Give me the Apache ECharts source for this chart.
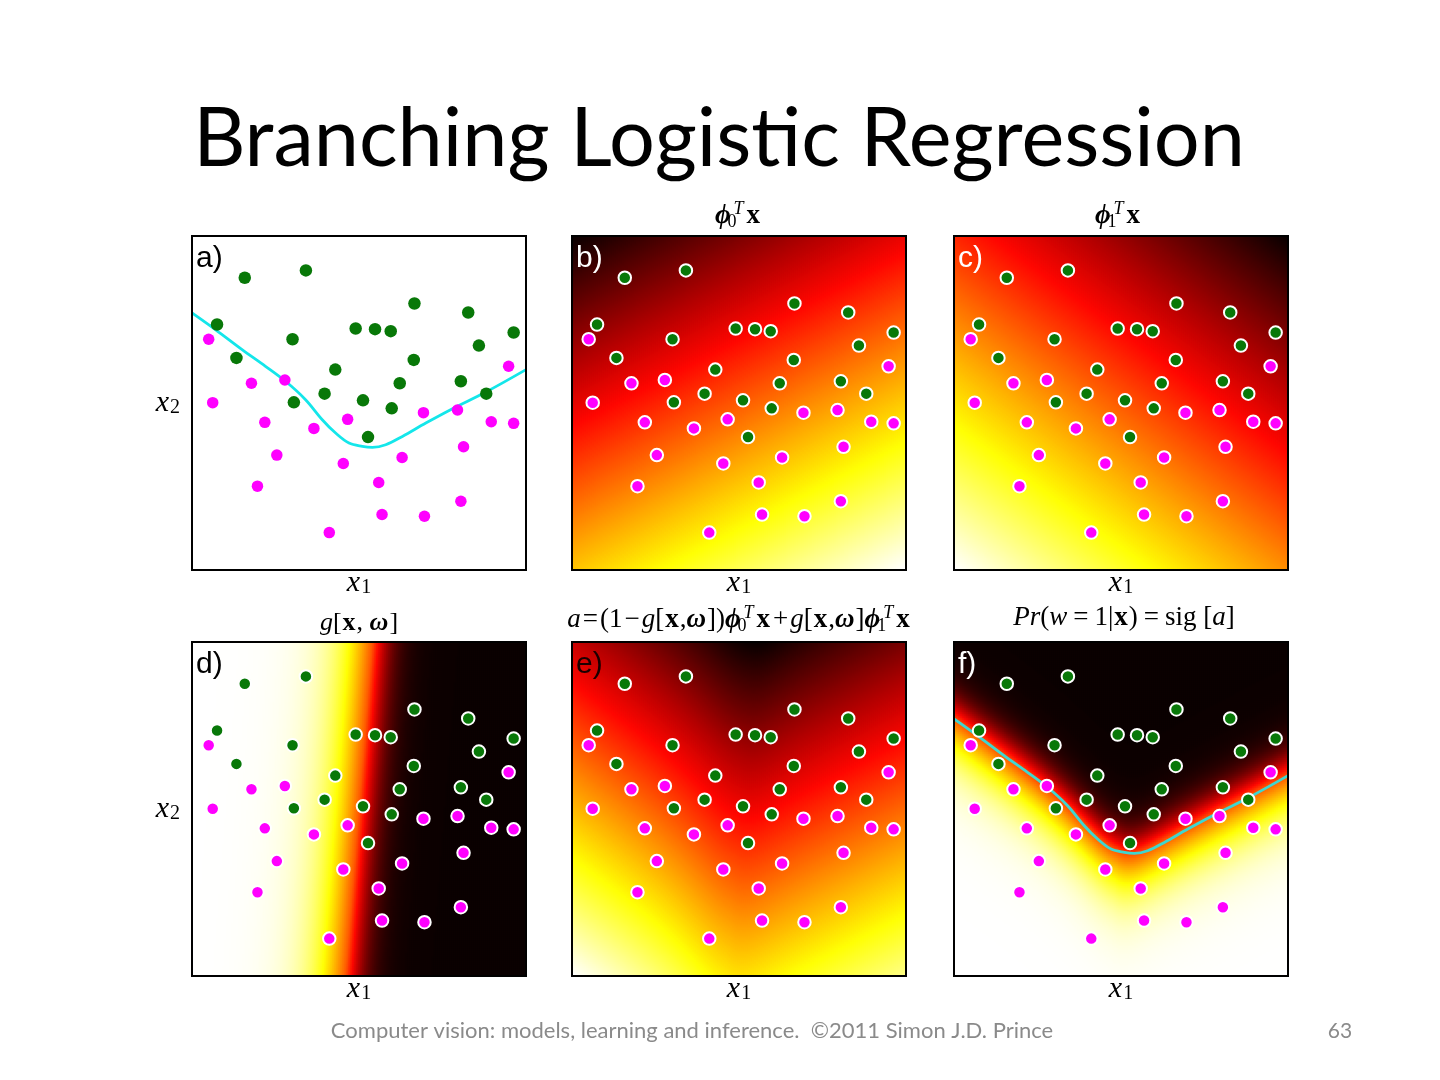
<!DOCTYPE html>
<html><head><meta charset="utf-8">
<script src="https://cdn.jsdelivr.net/npm/echarts@6/dist/echarts.min.js"></script>
<style>html,body{margin:0;padding:0;background:#fff}#c{width:1440px;height:1080px}</style>
</head><body><div id="c"></div>
<script>
// ---- data (panel coords 0..100) ----
const greenPoints = [[15.8,87.5],[34.1,89.7],[7.5,73.5],[30.1,69.1],[13.3,63.5],[42.9,60.0],[39.7,52.8],[30.5,50.2],[51.2,50.8],[52.7,39.8],[49.0,72.3],[54.8,72.1],[59.5,71.5],[66.6,79.8],[66.4,62.9],[62.2,55.9],[59.8,48.4],[82.7,77.1],[85.9,67.2],[96.3,71.1],[80.5,56.5],[88.1,52.8]];
const magentaPoints = [[5.0,69.1],[6.2,50.1],[17.8,55.9],[27.8,56.9],[21.8,44.2],[36.5,42.4],[46.6,45.1],[25.4,34.4],[45.3,31.9],[19.6,25.1],[55.9,26.2],[62.9,33.7],[69.3,47.1],[79.5,47.9],[89.6,44.4],[96.3,43.9],[94.8,61.0],[81.3,36.9],[80.5,20.6],[56.9,16.6],[69.6,16.1],[41.1,11.2]];
const boundaryX = [0, 7, 15, 22, 28, 34, 39, 43, 47, 51, 54, 58, 63, 70, 78, 88, 100];
const boundaryY = [77, 72, 66, 61, 56.5, 51, 45, 41, 38, 37, 36.7, 37.5, 40, 44, 48.3, 53.3, 60];
// model parameters estimated from the shaded panels: [bias, x1, x2] in unit panel coords
const phi0 = [0.08, 0.52, -1.0];
const phi1 = [0.77, -0.73, -1.0];
const omega = [0.46, -1.0, 0.08];
const gateGain = [16, 28];   // steepness of g on the g>0.5 / g<0.5 side
const sigGain = [22, 13];    // steepness of sig[a] on the a<0 / a>0 side
const panelLetters = ['a)', 'b)', 'c)', 'd)', 'e)', 'f)'];
const letterColors = ['#000', '#fff', '#fff', '#000', '#1a0000', '#fff'];

// ---- layout ----
const panels = [{left:192, top:236}, {left:572, top:236}, {left:954, top:236},
                {left:192, top:642}, {left:572, top:642}, {left:954, top:642}];
const SIZE = 334;
const N = 167;
const hot = ['#0b0000','#5e0000','#b20000','#ff0700','#ff5a00','#ffae00','#ffff04','#ffff82','#ffffff'];

const sigm = t => 1 / (1 + Math.exp(-t));
const lin = (w, u, v) => w[0] + w[1] * u + w[2] * v;
const raw = [[], [], [], [], []];
for (let i = 0; i < N; i++) for (let j = 0; j < N; j++) {
  const u = (i + 0.5) / N, v = (j + 0.5) / N;
  const a0 = lin(phi0, u, v), a1 = lin(phi1, u, v);
  const t = lin(omega, u, v);
  const g = sigm(t * (t > 0 ? gateGain[0] : gateGain[1]));
  const a = (1 - g) * a0 + g * a1;
  const pr = sigm(a * (a < 0 ? sigGain[0] : sigGain[1]));
  [a0, a1, g, a, pr].forEach((val, k) => raw[k].push([i, j, val]));
}
const heat = raw.map(arr => {
  let mn = Infinity, mx = -Infinity;
  arr.forEach(d => { mn = Math.min(mn, d[2]); mx = Math.max(mx, d[2]); });
  return arr.map(d => [d[0], d[1], (d[2] - mn) / (mx - mn)]);
});
const cats = Array.from({length: N}, (_, i) => i);

const serif = '"Liberation Serif","DejaVu Serif",serif';
const axisRich = {
  i: {fontFamily: serif, fontStyle: 'italic', fontSize: 30, color: '#000', lineHeight: 30, verticalAlign: 'middle'},
  s: {fontFamily: serif, fontSize: 20, color: '#000', lineHeight: 11, verticalAlign: 'bottom', padding: [0, 0, 0, 1]}
};
function mathRich(fs, opSpace) {
  const ss = Math.round(fs * 0.68);
  const sp = Math.round(fs * opSpace);
  return {
    i: {fontFamily: serif, fontStyle: 'italic', fontSize: fs, fill: '#000', lineHeight: fs + 4, verticalAlign: 'middle'},
    r: {fontFamily: serif, fontSize: fs, fill: '#000', lineHeight: fs + 4, verticalAlign: 'middle'},
    o: {fontFamily: serif, fontSize: fs, fill: '#000', lineHeight: fs + 4, verticalAlign: 'middle', padding: [0, sp, 0, sp]},
    b: {fontFamily: serif, fontWeight: 'bold', fontSize: fs, fill: '#000', lineHeight: fs + 4, verticalAlign: 'middle', padding: [0, 1, 0, 1]},
    bi: {fontFamily: serif, fontWeight: 'bold', fontStyle: 'italic', fontSize: fs, fill: '#000', lineHeight: fs + 4, verticalAlign: 'middle', padding: [0, 1, 0, 0]},
    s: {fontFamily: serif, fontSize: ss, fill: '#000', lineHeight: Math.round(fs * 0.42), verticalAlign: 'bottom', width: 1},
    t: {fontFamily: serif, fontStyle: 'italic', fontSize: ss, fill: '#000', lineHeight: Math.round(fs * 0.45), verticalAlign: 'top', padding: [0, 2, 0, 1]}
  };
}
const panelTitles = [
  null,
  {text: '{bi|ϕ}{s|0}{t|T}{b|x}', cx: 738, cy: 216, fs: 27, op: 0.08},
  {text: '{bi|ϕ}{s|1}{t|T}{b|x}', cx: 1118, cy: 216, fs: 27, op: 0.08},
  {text: '{i|g}{r|[}{b|x}{r|, }{bi|ω}{r|]}', cx: 359, cy: 623, fs: 26, op: 0.08},
  {text: '{i|a}{o|=}{r|(1}{o|−}{i|g}{r|[}{b|x}{r|,}{bi|ω}{r|])}{bi|ϕ}{s|0}{t|T}{b|x}{o|+}{i|g}{r|[}{b|x}{r|,}{bi|ω}{r|]}{bi|ϕ}{s|1}{t|T}{b|x}', cx: 739, cy: 620, fs: 27, op: 0.07},
  {text: '{i|Pr}{r|(}{i|w}{o|=}{r|1|}{b|x}{r|)}{o|=}{r|sig [}{i|a}{r|]}', cx: 1124, cy: 618, fs: 27, op: 0.24}
];

const grid = [], xAxis = [], yAxis = [], series = [], heatIdx = [];
panels.forEach((p, k) => {
  grid.push({left: p.left, top: p.top, width: SIZE, height: SIZE, show: true, borderColor: '#000', borderWidth: 2, backgroundColor: 'transparent', z: 10});
  xAxis.push({type: 'value', gridIndex: k, min: 0, max: 100, axisLine: {show: false}, axisTick: {show: false}, axisLabel: {show: false}, splitLine: {show: false},
    name: '{i|x}{s|1}', nameLocation: 'middle', nameGap: -2, nameTextStyle: {rich: axisRich}});
  yAxis.push({type: 'value', gridIndex: k, min: 0, max: 100, axisLine: {show: false}, axisTick: {show: false}, axisLabel: {show: false}, splitLine: {show: false},
    name: (k % 3 === 0) ? '{i|x}{s|2}' : '', nameLocation: 'middle', nameRotate: 0, nameGap: 12, nameTextStyle: {rich: axisRich}});
});
panels.forEach((p, k) => {
  if (k === 0) return;
  const gi = grid.length;
  grid.push({left: p.left, top: p.top, width: SIZE, height: SIZE, show: false});
  xAxis.push({type: 'category', gridIndex: gi, data: cats, show: false});
  yAxis.push({type: 'category', gridIndex: gi, data: cats, show: false});
  heatIdx.push(series.length);
  series.push({type: 'heatmap', xAxisIndex: gi, yAxisIndex: gi, data: heat[k - 1], progressive: 0, silent: true, z: 1,
    itemStyle: {borderWidth: 0}, emphasis: {disabled: true}});
});
panels.forEach((p, k) => {
  const bw = k === 0 ? 0 : 2;
  if (k === 0 || k === 5) {
    series.push({type: 'line', xAxisIndex: k, yAxisIndex: k, data: boundaryX.map((x, i) => [x, boundaryY[i]]),
      smooth: 0.35, showSymbol: false, silent: true, z: 3,
      lineStyle: {color: k === 0 ? '#14e6ea' : '#3fd6cf', width: 2.8}});
  }
  series.push({type: 'scatter', xAxisIndex: k, yAxisIndex: k, data: greenPoints, symbolSize: k === 0 ? 12.5 : 12.5, silent: true, z: 4,
    itemStyle: {color: '#087808', borderColor: '#fff', borderWidth: bw, opacity: 1}});
  series.push({type: 'scatter', xAxisIndex: k, yAxisIndex: k, data: magentaPoints, symbolSize: k === 0 ? 11.5 : 12.5, silent: true, z: 4,
    itemStyle: {color: '#ff00ff', borderColor: '#fff', borderWidth: bw, opacity: 1}});
});

const graphic = [
  {type: 'text', x: 719, y: 140, z: 100, style: {text: 'Branching Logistic Regression', font: '81px Lato, "Open Sans", sans-serif', fill: '#000', align: 'center', verticalAlign: 'middle'}},
  {type: 'text', x: 692, y: 1031, z: 100, style: {text: 'Computer vision: models, learning and inference.  ©2011 Simon J.D. Prince', font: '22px Lato, "Open Sans", sans-serif', fill: '#8a8a8a', align: 'center', verticalAlign: 'middle'}},
  {type: 'text', x: 1340, y: 1031, z: 100, style: {text: '63', font: '21px Lato, "Open Sans", sans-serif', fill: '#8a8a8a', align: 'center', verticalAlign: 'middle'}}
];
panels.forEach((p, k) => {
  graphic.push({type: 'text', x: p.left + 4, y: p.top + 8, z: 100,
    style: {text: panelLetters[k], font: '30px "Liberation Sans", Arial, sans-serif', fill: letterColors[k], align: 'left', verticalAlign: 'top'}});
  const t = panelTitles[k];
  if (t) graphic.push({type: 'text', x: t.cx, y: t.cy, z: 100,
    style: {text: t.text, rich: mathRich(t.fs, t.op), align: 'center', verticalAlign: 'middle'}});
});

const chart = echarts.init(document.getElementById('c'), null, {renderer: 'canvas'});
chart.setOption({
  animation: false,
  backgroundColor: '#fff',
  grid, xAxis, yAxis, series, graphic,
  visualMap: {type: 'continuous', show: false, min: 0, max: 1, dimension: 2, seriesIndex: heatIdx, inRange: {color: hot}}
});
</script></body></html>
